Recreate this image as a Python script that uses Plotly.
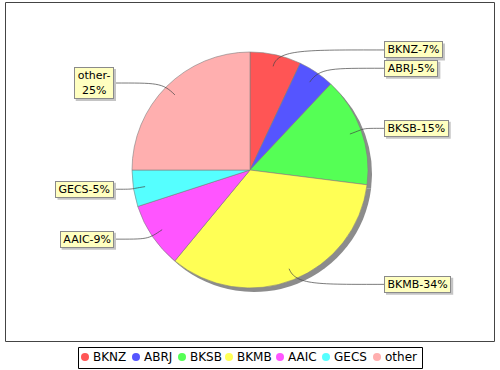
import math
import plotly.graph_objects as go

# ---- data ----
labels = ["BKNZ", "ABRJ", "BKSB", "BKMB", "AAIC", "GECS", "other"]
values = [7, 5, 15, 34, 9, 5, 25]
colors = ["#FF5555", "#5555FF", "#55FF55", "#FFFF55", "#FF55FF", "#55FFFF", "#FFAFAF"]

# ---- layout constants (pixels) ----
W, H = 500, 370
CX, CY, R = 250, 170, 118
LABEL_R = 123
RIGHT_LABEL_X, LEFT_LABEL_X = 384, 114
LEGEND_X = [85, 136, 182, 229, 280, 326, 377]
LEGEND_Y = 357
FONT = "DejaVu Sans"
LABEL_SIZE = 11

# approximate DejaVu Sans advance widths (units per 2048 em), used to size label boxes
GLYPH_W = {"A": 1401, "B": 1405, "C": 1430, "E": 1294, "G": 1577, "I": 604, "J": 604,
           "K": 1343, "M": 1767, "N": 1532, "R": 1423, "S": 1300, "Z": 1403,
           "o": 1253, "t": 803, "h": 1298, "e": 1260, "r": 842, "-": 739, "%": 1946}


def text_width(s, size):
    return sum(GLYPH_W.get(ch, 1303) for ch in s) * size / 2048.0


fig = go.Figure()

# shadow pie
fig.add_trace(go.Pie(
    values=values, labels=labels, sort=False, direction="clockwise", rotation=0,
    marker=dict(colors=["#8c8c8c"] * len(values), line=dict(width=0)),
    textinfo="none", hoverinfo="skip", showlegend=False,
    domain=dict(x=[(CX - R + 4) / W, (CX + R + 4) / W],
                y=[(H - CY - R - 4) / H, (H - CY + R - 4) / H]),
))
# main pie
fig.add_trace(go.Pie(
    values=values, labels=labels, sort=False, direction="clockwise", rotation=0,
    marker=dict(colors=colors, line=dict(color="#808080", width=0.6)),
    textinfo="none", hoverinfo="skip", showlegend=False,
    domain=dict(x=[(CX - R) / W, (CX + R) / W],
                y=[(H - CY - R) / H, (H - CY + R) / H]),
))

# legend markers
fig.add_trace(go.Scatter(
    x=LEGEND_X, y=[LEGEND_Y] * len(labels), mode="markers",
    marker=dict(color=colors, size=8, line=dict(width=0)),
    hoverinfo="skip", showlegend=False, cliponaxis=False,
))

shapes = []
annotations = []
total = sum(values)
cum = 0.0
for lab, v in zip(labels, values):
    mid = (cum + v / 2) / total * 2 * math.pi
    cum += v
    s, c = math.sin(mid), math.cos(mid)
    pct = round(v / total * 100)
    text = f"{lab}-{pct}%"
    lines = [text]
    if len(text) > 8:
        lines = [text.split("-")[0] + "-", text.split("-")[1]]
    tw = max(text_width(l, LABEL_SIZE) for l in lines) + 3
    th = 13 if len(lines) == 1 else 28
    ow, oh = tw + 4, th + 4
    ly = CY - LABEL_R * c
    right = s > 0
    tx = RIGHT_LABEL_X if right else LEFT_LABEL_X
    # leader curve
    lx0, ly0 = CX + 0.9 * R * s, CY - 0.9 * R * c
    c1x, c1y = lx0 + 0.15 * R * s, ly0 - 0.15 * R * c
    c2x, c2y = lx0 + 0.3 * (tx - lx0), ly
    shapes.append(dict(type="path", xref="x", yref="y",
                       path=f"M {lx0:.2f},{ly0:.2f} C {c1x:.2f},{c1y:.2f} {c2x:.2f},{c2y:.2f} {tx:.2f},{ly:.2f}",
                       line=dict(color="#444444", width=0.7), layer="above"))
    # label shadow
    bx0 = tx if right else tx - ow
    shapes.append(dict(type="rect", xref="x", yref="y",
                       x0=bx0 + 2, x1=bx0 + ow + 2, y0=ly - oh / 2 + 2, y1=ly + oh / 2 + 2,
                       fillcolor="#c4c4c4", line=dict(width=0), layer="above"))
    annotations.append(dict(text="<br>".join(lines), x=tx, y=ly, xref="x", yref="y",
                            showarrow=False, xanchor="left" if right else "right",
                            yanchor="middle", width=tw, height=th,
                            borderpad=1, borderwidth=1, align="center", valign="middle",
                            font=dict(family=FONT, size=LABEL_SIZE, color="black"),
                            bgcolor="#FFFFC0", bordercolor="#8a8a8a"))

for lab, lx in zip(labels, LEGEND_X):
    annotations.append(dict(text=lab, x=lx + 6, y=LEGEND_Y, xref="x", yref="y",
                            showarrow=False, xanchor="left", yanchor="middle",
                            font=dict(family=FONT, size=12, color="black")))

# plot border
shapes.append(dict(type="rect", xref="x", yref="y", x0=5.5, y0=2.5, x1=494.5, y1=341.5,
                   line=dict(color="#444444", width=1), layer="below"))
# legend border
shapes.append(dict(type="rect", xref="x", yref="y", x0=78.5, y0=347.5, x1=422.5, y1=368.5,
                   line=dict(color="black", width=1), layer="below"))

fig.update_layout(
    width=W, height=H, margin=dict(l=0, r=0, t=0, b=0),
    paper_bgcolor="white", plot_bgcolor="white",
    xaxis=dict(range=[0, W], visible=False, fixedrange=True),
    yaxis=dict(range=[H, 0], visible=False, fixedrange=True),
    shapes=shapes, annotations=annotations, showlegend=False,
    font=dict(family=FONT),
)

fig.write_html("out.html", config={"displayModeBar": False},
               post_script="document.body.style.margin='0';document.body.style.overflow='hidden';")
